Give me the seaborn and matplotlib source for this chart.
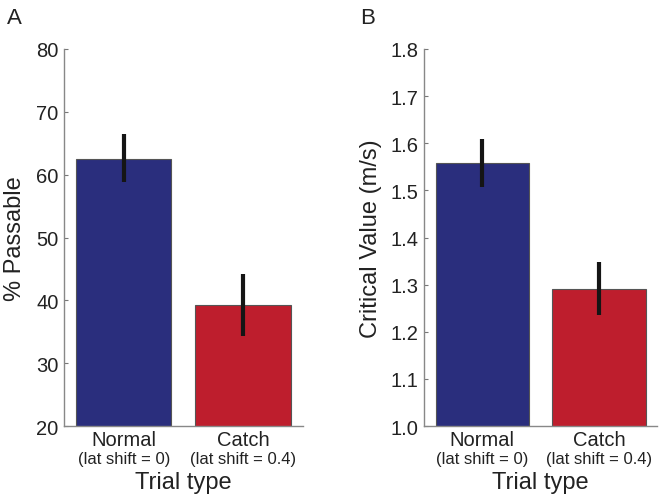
"""Two-panel bar chart: % passable and critical value by trial type."""
import matplotlib
matplotlib.use("Agg")
import matplotlib.pyplot as plt
import matplotlib.transforms as mtransforms
import numpy as np
import pandas as pd
import seaborn as sns

# Data
trial_types = ["Normal", "Catch"]
sub_labels = ["(lat shift = 0)", "(lat shift = 0.4)"]
pct_passable = [62.5, 39.3]
pct_err_low = [58.8, 34.4]
pct_err_high = [66.5, 44.2]
crit_value = [1.559, 1.290]
crit_err_low = [1.508, 1.235]
crit_err_high = [1.609, 1.347]

bar_colors = ["#2A2E7D", "#BE1E2D"]
text_color = "#222222"

sns.set_theme(style="white")
plt.rcParams["font.family"] = ["Liberation Sans", "DejaVu Sans"]
plt.rcParams["text.color"] = text_color
plt.rcParams["axes.labelcolor"] = text_color
plt.rcParams["xtick.color"] = text_color
plt.rcParams["ytick.color"] = text_color

fig = plt.figure(figsize=(6.64, 5.02), dpi=100)
ax_a = fig.add_axes([0.0964, 0.1494, 0.3596, 0.751])
ax_b = fig.add_axes([0.6386, 0.1494, 0.3514, 0.751])


def draw_panel(ax, values, lo, hi, ylim, yticks, yfmt, ylabel, ylabel_x):
    df = pd.DataFrame({"trial": trial_types, "value": values})
    sns.barplot(data=df, x="trial", y="value", hue="trial", palette=bar_colors,
                saturation=1, width=0.8, edgecolor="#555555", linewidth=0.8,
                legend=False, ax=ax)
    v = np.array(values)
    yerr = np.vstack([v - np.array(lo), np.array(hi) - v])
    ax.errorbar(np.arange(len(values)), v, yerr=yerr, fmt="none",
                ecolor="#151515", elinewidth=3, capsize=0, zorder=5)
    ax.set_xlim(-0.5, 1.5)
    ax.set_ylim(*ylim)
    ax.set_yticks(yticks)
    ax.set_yticklabels([yfmt.format(t) for t in yticks])
    ax.set_xticks(range(len(trial_types)))
    ax.set_xticklabels(trial_types, fontsize=14.5)
    ax.tick_params(axis="y", direction="in", length=3, width=0.8, color="#777777",
                   labelsize=14.5, labelcolor=text_color, pad=4, left=True)
    ax.tick_params(axis="x", length=0, pad=3, labelcolor=text_color)
    for side in ["top", "right"]:
        ax.spines[side].set_visible(False)
    for side in ["left", "bottom"]:
        ax.spines[side].set_color("#888888")
        ax.spines[side].set_linewidth(1.0)
    trans = mtransforms.blended_transform_factory(ax.transData, ax.transAxes)
    for i, s in enumerate(sub_labels):
        ax.text(i, -0.087, s, transform=trans, ha="center", va="center", fontsize=12)
    ax.set_xlabel("Trial type", fontsize=17, labelpad=16)
    ax.set_ylabel(ylabel, fontsize=17, va="center")
    # x in figure pixels, y at the middle of the axes
    label_trans = mtransforms.blended_transform_factory(fig.transFigure, ax.transAxes)
    ax.yaxis.set_label_coords(ylabel_x, 0.5, transform=label_trans)


draw_panel(ax_a, pct_passable, pct_err_low, pct_err_high, (20, 80),
           [20, 30, 40, 50, 60, 70, 80], "{:.0f}", "% Passable", 15 / 664)
draw_panel(ax_b, crit_value, crit_err_low, crit_err_high, (1.0, 1.8),
           [1.0, 1.1, 1.2, 1.3, 1.4, 1.5, 1.6, 1.7, 1.8], "{:.1f}",
           "Critical Value (m/s)", 371 / 664)

fig.text(0.010, 0.984, "A", fontsize=16, va="top", ha="left")
fig.text(0.543, 0.984, "B", fontsize=16, va="top", ha="left")

fig.savefig("out.png", dpi=100)
